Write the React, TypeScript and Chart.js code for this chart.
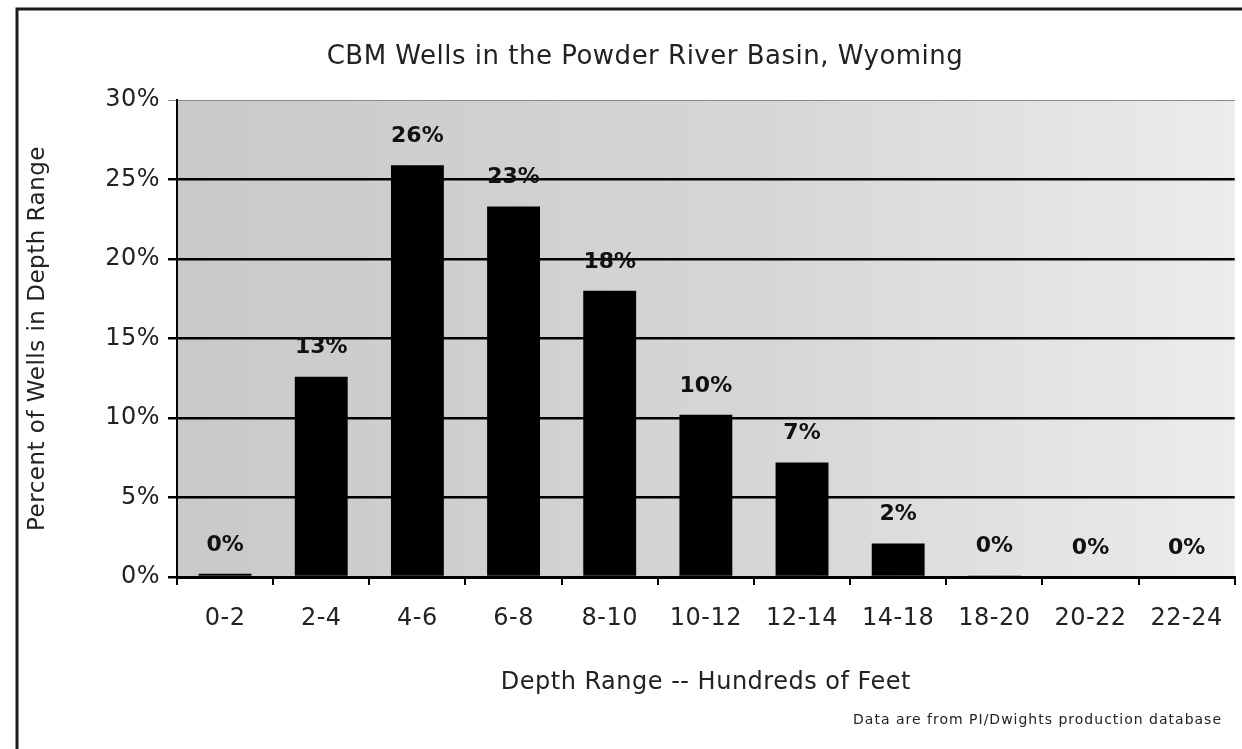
import React, { useEffect, useRef } from "react";
import { Chart, registerables } from "chart.js";

Chart.register(...registerables);

const categories = ["0-2", "2-4", "4-6", "6-8", "8-10", "10-12", "12-14", "14-18", "18-20", "20-22", "22-24"];
const percentWells = [0.2, 12.6, 25.9, 23.3, 18.0, 10.2, 7.2, 2.1, 0.1, 0, 0];
const yTicks = [0, 5, 10, 15, 20, 25, 30];

const titleText = "CBM Wells in the Powder River Basin, Wyoming";
const yTitleText = "Percent of Wells in Depth Range";
const xTitleText = "Depth Range -- Hundreds of Feet";
const footnoteText = "Data are from PI/Dwights production database";

const FONT = "'DejaVu Sans', Arial, sans-serif";
const SPACING = "0.5px";

export default function App() {
  const ref = useRef<HTMLCanvasElement | null>(null);

  useEffect(() => {
    document.body.style.margin = "0";
    const canvas = ref.current;
    if (!canvas) return;

    const decor = {
      id: "decor",
      beforeUpdate(chart: any) {
        chart.ctx.letterSpacing = SPACING;
      },
      beforeDraw(chart: any) {
        const { ctx, chartArea } = chart;
        ctx.letterSpacing = SPACING;
        ctx.save();
        ctx.fillStyle = "#ffffff";
        ctx.fillRect(0, 0, chart.width, chart.height);
        const g = ctx.createLinearGradient(chartArea.left, 0, chartArea.right, 0);
        g.addColorStop(0, "#c9c9c9");
        g.addColorStop(0.55, "#d6d6d6");
        g.addColorStop(1, "#ececec");
        ctx.fillStyle = g;
        ctx.fillRect(chartArea.left, chartArea.top, chartArea.right - chartArea.left, chartArea.bottom - chartArea.top);
        // frame
        ctx.strokeStyle = "#1a1a1a";
        ctx.lineWidth = 3;
        ctx.beginPath();
        ctx.moveTo(17, chart.height);
        ctx.lineTo(17, 9);
        ctx.lineTo(chart.width, 9);
        ctx.stroke();
        ctx.restore();
      },
      afterDraw(chart: any) {
        const { ctx } = chart;
        ctx.save();
        ctx.fillStyle = "#222";
        ctx.textBaseline = "middle";
        ctx.letterSpacing = SPACING;
        ctx.font = `26px ${FONT}`;
        ctx.textAlign = "center";
        ctx.fillText(titleText, 645, 57);
        ctx.letterSpacing = "1px";
        ctx.font = `14px ${FONT}`;
        ctx.textAlign = "right";
        ctx.fillText(footnoteText, 1222, 720);
        // data labels
        ctx.letterSpacing = "0px";
        const meta = chart.getDatasetMeta(0);
        ctx.font = `bold 22px ${FONT}`;
        ctx.textAlign = "center";
        ctx.fillStyle = "#111";
        meta.data.forEach((bar: any, i: number) => {
          const v = percentWells[i];
          ctx.fillText(Math.round(v) + "%", bar.x, bar.y - 29);
        });
        ctx.restore();
      },
    };

    const chart = new Chart(canvas, {
      type: "bar",
      data: {
        labels: categories,
        datasets: [
          {
            data: percentWells,
            backgroundColor: "#000000",
            borderWidth: 0,
            barPercentage: 0.55,
            categoryPercentage: 1,
          },
        ],
      },
      options: {
        responsive: false,
        animation: false,
        events: [],
        layout: { padding: { top: 100, right: 5, bottom: 0, left: 0 } },
        plugins: {
          legend: { display: false },
          title: { display: false },
          tooltip: { enabled: false },
        },
        scales: {
          x: {
            type: "category",
            offset: true,
            grid: {
              display: true,
              offset: true,
              drawOnChartArea: false,
              drawTicks: true,
              tickLength: 8,
              color: "#000",
              lineWidth: 2,
            },
            border: { display: true, color: "#000", width: 3 },
            ticks: {
              color: "#222",
              font: { family: FONT, size: 24 },
              padding: 19,
              maxRotation: 0,
              autoSkip: false,
            },
            title: {
              display: true,
              text: xTitleText,
              color: "#222",
              font: { family: FONT, size: 24 },
              padding: { top: 0, bottom: 52 },
            },
            afterFit(scale: any) {
              scale.height = 172;
            },
          },
          y: {
            min: 0,
            max: 30,
            afterBuildTicks(scale: any) {
              scale.ticks = yTicks.map((v) => ({ value: v }));
            },
            grid: {
              drawTicks: true,
              tickLength: 9,
              color: (c: any) => (c.tick && c.tick.value === 30 ? "#8a8a8a" : "#000"),
              lineWidth: (c: any) => (c.tick && c.tick.value === 30 ? 1 : 2.5),
            },
            border: { display: true, color: "#000", width: 2 },
            ticks: {
              color: "#222",
              font: { family: FONT, size: 24 },
              padding: 8,
              callback: (v: any) => v + "%",
            },
            title: {
              display: true,
              text: yTitleText,
              color: "#222",
              font: { family: FONT, size: 23 },
              padding: { top: 24, bottom: 0 },
            },
            afterFit(scale: any) {
              scale.width = 177;
            },
          },
        },
      },
      plugins: [decor],
    });

    return () => chart.destroy();
  }, []);

  return (
    <div style={{ width: 1242, height: 749 }}>
      <canvas ref={ref} width={1242} height={749} style={{ display: "block", width: 1242, height: 749 }} />
    </div>
  );
}
